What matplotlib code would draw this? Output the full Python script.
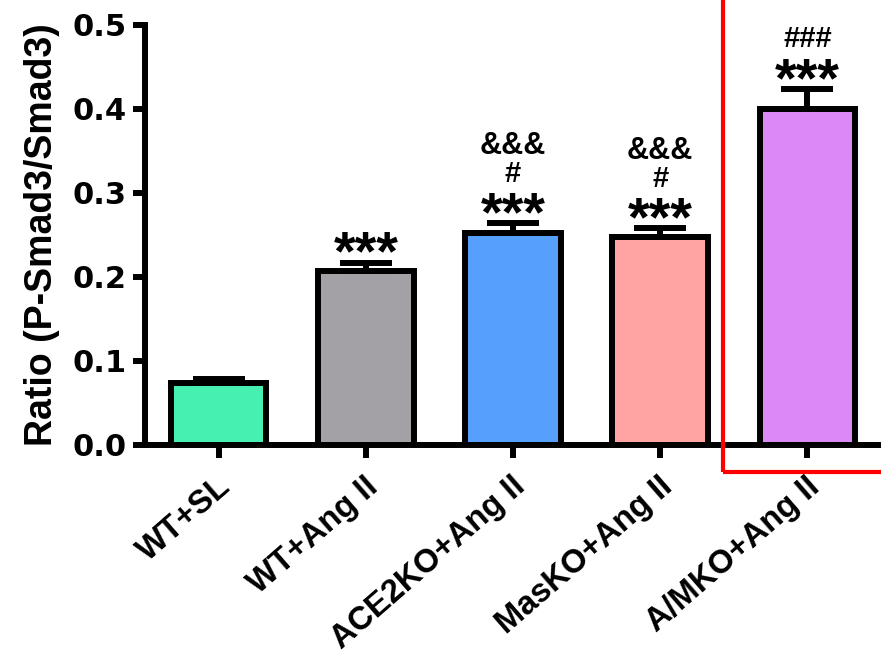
import matplotlib
matplotlib.use("Agg")
import matplotlib.pyplot as plt
from matplotlib.patches import Rectangle
from matplotlib.transforms import ScaledTranslation
import numpy as np

# data
groups = ["WT+SL", "WT+Ang II", "ACE2KO+Ang II", "MasKO+Ang II", "A/MKO+Ang II"]
means = [0.074, 0.207, 0.252, 0.248, 0.400]
errs = [0.005, 0.010, 0.012, 0.010, 0.024]
colors = ["#45F0B0", "#A3A1A6", "#56A0FB", "#FFA3A3", "#DC88F5"]
stars = ["", "***", "***", "***", "***"]
hashes = ["", "", "#", "#", "###"]
amps = ["", "", "&&&", "&&&", ""]

plt.rcParams['font.family'] = ['Liberation Sans', 'DejaVu Sans']
plt.rcParams['font.weight'] = 'bold'

fig = plt.figure(figsize=(8.81, 6.59), dpi=100)
ax = fig.add_axes([145 / 881, 1 - 445 / 659, 736 / 881, 420 / 659])

x = np.arange(len(groups))
lw = 4.3
ax.bar(x, means, width=0.65, color=colors, edgecolor="black", linewidth=lw, zorder=2)
ax.errorbar(x, means, yerr=[np.zeros(len(errs)), errs], fmt="none", ecolor="black",
            elinewidth=lw, capsize=19, capthick=lw, zorder=3)

# significance marks stacked over the error bars
for i in range(len(groups)):
    top = means[i] + errs[i]
    if stars[i]:
        ax.annotate(stars[i], (x[i], top), xytext=(0, -5), textcoords="offset points",
                    ha="center", va="baseline", fontsize=40, fontweight="bold")
    if hashes[i]:
        ax.annotate(hashes[i], (x[i], top), xytext=(0, 30), textcoords="offset points",
                    ha="center", va="baseline", fontsize=21, fontweight="bold")
    if amps[i]:
        ax.annotate(amps[i], (x[i], top), xytext=(0, 50), textcoords="offset points",
                    ha="center", va="baseline", fontsize=22, fontweight="bold")

ax.set_xlim(-0.5, 4.5)
ax.set_ylim(0, 0.5)
ax.set_yticks([0.0, 0.1, 0.2, 0.3, 0.4, 0.5])
ax.set_yticklabels(["0.0", "0.1", "0.2", "0.3", "0.4", "0.5"], fontsize=22,
                   fontweight="bold", family="DejaVu Sans")
ax.set_xticks(x)
ax.set_xticklabels(groups, rotation=41, ha="right", fontsize=23.5, fontweight="bold")

ax.spines["top"].set_visible(False)
ax.spines["right"].set_visible(False)
ax.spines["left"].set_linewidth(lw)
ax.spines["bottom"].set_linewidth(lw)
ax.tick_params(axis="both", direction="out", length=9, width=lw, pad=4)
ax.tick_params(axis="x", pad=1)

# nudge the rotated names so their ends sit right of the ticks, as in the figure
for lab in ax.get_xticklabels():
    lab.set_transform(lab.get_transform() + ScaledTranslation(0.18, -0.12, fig.dpi_scale_trans))

ax.set_ylabel("Ratio (P-Smad3/Smad3)", fontsize=27, fontweight="bold")
ax.yaxis.set_label_coords(-0.115, 0.5)

# red box around the last group
rect = Rectangle((723 / 881, 1 - 472 / 659), 0.5, 1.0, transform=fig.transFigure,
                 fill=False, edgecolor="#FF0000", linewidth=3, clip_on=False)
fig.add_artist(rect)

fig.savefig("out.png", dpi=100)
